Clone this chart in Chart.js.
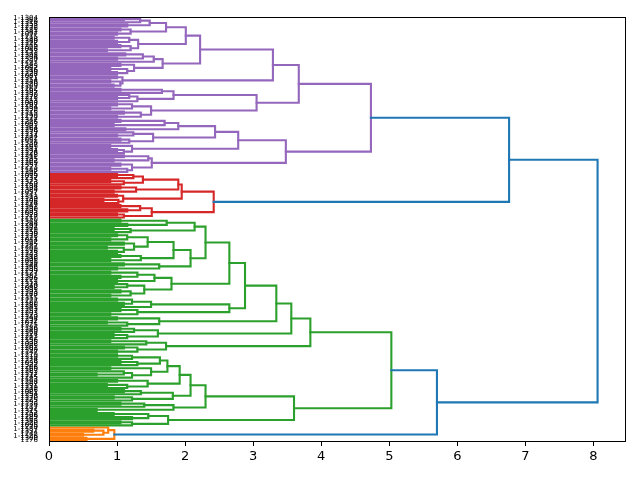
<!DOCTYPE html>
<html>
<head>
<meta charset="utf-8">
<script src="https://cdn.jsdelivr.net/npm/chart.js@4.4.0/dist/chart.umd.min.js"></script>
<style>
  html, body { margin: 0; padding: 0; background: #fff; }
</style>
</head>
<body>
<canvas id="dendro" width="640" height="480"></canvas>
<script>
// Hauteur de fusion entre deux feuilles voisines (de haut en bas)
const purpleGaps = [
  1.1, 1.34, 1.48, 1.15, 1.72, 1.05, 1.2, 1.0, 2.01,
  0.95, 1.18, 1.0, 1.31, 1.05, 1.2, 0.85, 2.22,
  1.12, 1.38, 1.0, 1.54, 1.67, 1.05, 1.25, 0.9, 1.15, 1.0, 3.29,
  1.0, 1.08, 0.9, 1.05, 0.95, 3.67,
  1.05, 1.66, 1.83, 1.18, 1.0, 1.3, 3.05,
  1.0, 1.22, 0.9, 1.5, 1.1, 1.35, 1.0, 4.73,
  1.05, 1.70, 0.95, 1.90, 1.12, 2.44,
  1.24, 1.0, 1.53, 1.05, 1.18, 2.78,
  0.9, 1.22, 1.0, 1.1, 3.48,
  1.1, 1.46, 0.95, 1.51, 1.05, 1.22, 0.9, 1.15
];
const redGaps = [
  1.0, 1.24, 1.38, 0.9, 1.1, 1.90, 1.05, 1.28, 0.95, 1.95,
  1.0, 1.09, 0.8, 1.02, 2.42, 1.05, 1.34, 1.15, 1.51, 1.0, 1.1
];
const greenGaps = [
  1.05, 1.73, 1.15, 2.14, 0.95, 1.2, 2.30,
  1.0, 1.15, 0.9, 1.45, 1.1, 1.25, 0.85, 1.1, 1.0, 1.83,
  1.05, 1.35, 0.9, 2.08,
  1.1, 1.62, 1.0, 2.65,
  0.9, 1.3, 1.05, 1.55, 1.0, 1.80,
  1.15, 0.95, 1.4, 1.05, 1.2, 0.9, 2.88,
  1.0, 1.22, 1.1, 1.5, 2.65,
  1.05, 1.3, 0.9, 3.34,
  1.0, 1.62, 0.85, 1.15, 3.56,
  1.05, 1.25, 1.6, 0.95, 1.15, 3.84,
  0.9, 1.43, 1.72, 1.1, 1.3, 1.0, 5.03,
  1.0, 1.22, 1.63, 1.05, 1.3, 1.74,
  0.9, 1.5, 1.1, 0.7, 1.22, 1.92,
  1.0, 1.45, 0.85, 1.15, 2.08,
  1.1, 1.35, 1.82, 0.95, 1.22, 2.30,
  1.05, 1.4, 1.83, 0.7, 3.60,
  0.95, 1.46, 1.22, 1.75, 1.05, 1.22
];
const orangeGaps = [0.87, 0.65, 0.8, 0.5, 0.96, 0.55];
// fusions entre groupes : violet|rouge, rouge|vert, vert|orange
const clusterJoins = [6.76, 8.06, 5.70];
const clusterColors = ['#9467bd', '#d62728', '#2ca02c', '#ff7f0e'];
const aboveColor = '#1f77b4';
const xTicks = [0, 1, 2, 3, 4, 5, 6, 7, 8];

const leafLabels = [
  '1-1304','1362','1-1319','1158','1-1233','1276','1181','1-1342','1097','1215','1-1188','1340',
  '1122','1-1275','1309','1-1046','1253','1171','1-1398','1204','1330','1-1267','1143','1285',
  '1-1062','1316','1199','1-1228','1087','1371','1-1154','1246','1320','1-1109','1262','1195',
  '1-1387','1130','1278','1-1211','1353','1068','1-1297','1184','1239','1-1326','1115','1290',
  '1-1172','1347','1226','1-1093','1301','1164','1-1258','1379','1137','1-1214','1282','1051',
  '1-1336','1207','1169','1-1271','1394','1126','1-1248','1311','1185','1-1102','1269','1357',
  '1-1223','1148','1292','1-1365','1079','1237','1-1175','1323','1260','1-1134','1198','1384',
  '1-1057','1241','1313','1-1189','1106','1274','1-1349','1161','1230','1-1295','1083','1328',
  '1-1217','1150','1368','1-1244','1192','1307','1-1119','1256','1339','1-1178','1221','1074',
  '1-1302','1145','1287','1-1209','1376','1133','1-1263','1318','1196','1-1091','1250','1344',
  '1-1166','1235','1299','1-1127','1382','1206','1-1272','1153','1314','1-1240','1088','1331',
  '1-1193','1268','1117','1-1355','1227','1180','1-1286','1341','1103','1-1257','1203','1373',
  '1-1140','1294','1232','1-1071','1325','1186','1-1249','1360','1124','1-1213','1281','1156',
  '1-1335','1098','1265','1-1201','1390','1147','1-1279','1310','1174','1-1238','1059','1322',
  '1-1208','1160','1283','1-1351','1112','1245','1-1183','1298','1367','1-1131','1219','1306',
  '1-1081','1254','1338','1-1170','1225','1393','1-1136','1277','1197','1-1315','1252','1108',
  '1-1289','1163','1345','1-1220','1095','1270','1-1187','1332','1242','1-1128','1300','1176'
];

const mergeHeights = [...purpleGaps, clusterJoins[0], ...redGaps, clusterJoins[1],
                      ...greenGaps, clusterJoins[2], ...orangeGaps];
const nLeaves = mergeHeights.length + 1;
const maxH = Math.max(...mergeHeights);
const threshold = 0.7 * maxH;

// construit l'arbre : on coupe à la plus grande fusion
function build(lo, hi) {
  if (lo === hi) return { h: 0, pos: 10 * lo + 5 };
  let k = lo;
  for (let i = lo; i < hi; i++) if (mergeHeights[i] > mergeHeights[k]) k = i;
  const a = build(lo, k), b = build(k + 1, hi);
  return { h: mergeHeights[k], pos: (a.pos + b.pos) / 2, a: a, b: b };
}
const root = build(0, nLeaves - 1);

const links = [];
let clusterIdx = 0;
function walk(node, color) {
  if (!node.a) return;
  let c = color;
  if (!c && node.h < threshold) c = clusterColors[clusterIdx++];
  links.push({
    color: c || aboveColor,
    pts: [
      { x: node.a.h, y: node.a.pos }, { x: node.h, y: node.a.pos },
      { x: node.h, y: node.b.pos }, { x: node.b.h, y: node.b.pos }
    ]
  });
  walk(node.a, c);
  walk(node.b, c);
}
walk(root, null);

const datasets = links.map(l => ({
  data: l.pts,
  showLine: true,
  borderColor: l.color,
  borderWidth: 2.1,
  borderCapStyle: 'square',
  borderJoinStyle: 'miter',
  pointRadius: 0,
  tension: 0
}));

const leafPositions = [];
for (let i = 0; i < nLeaves; i++) leafPositions.push(10 * i + 5);

// cadre noir tout autour
const spines = {
  id: 'spines',
  afterDraw(chart) {
    const { ctx, chartArea: a } = chart;
    ctx.save();
    ctx.strokeStyle = '#000';
    ctx.lineWidth = 1;
    ctx.strokeRect(Math.round(a.left) + 0.5, Math.round(a.top) + 0.5,
      Math.round(a.right - a.left), Math.round(a.bottom - a.top));
    ctx.restore();
  }
};

new Chart(document.getElementById('dendro'), {
  type: 'scatter',
  data: { datasets: datasets },
  plugins: [spines],
  options: {
    responsive: false,
    animation: false,
    layout: { padding: { top: 17, right: 15, left: 0, bottom: 0 } },
    plugins: { legend: { display: false }, tooltip: { enabled: false } },
    scales: {
      x: {
        type: 'linear',
        min: 0,
        max: maxH * 1.05,
        afterBuildTicks: s => { s.ticks = xTicks.map(v => ({ value: v })); },
        afterFit: s => { s.height = 39; },
        ticks: { color: '#000', padding: 3, font: { family: 'DejaVu Sans', size: 13 } },
        grid: { drawOnChartArea: false, tickLength: 5, color: '#000', tickWidth: 1 },
        border: { display: false }
      },
      y: {
        type: 'linear',
        reverse: true,
        min: 0,
        max: 10 * nLeaves,
        afterBuildTicks: s => { s.ticks = leafPositions.map(v => ({ value: v })); },
        afterFit: s => { s.width = 49; },
        ticks: {
          autoSkip: false,
          color: '#000',
          padding: 11,
          font: { family: 'DejaVu Sans', size: 7 },
          callback: (v, i) => leafLabels[i]
        },
        grid: { display: false, drawTicks: false },
        border: { display: false }
      }
    }
  }
});
</script>
</body>
</html>
